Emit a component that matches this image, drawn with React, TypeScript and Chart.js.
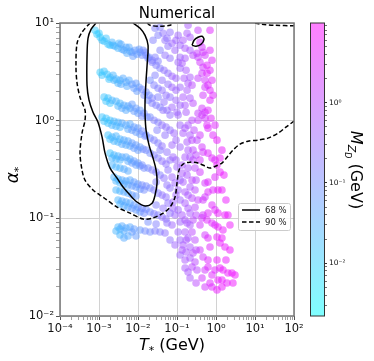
import React, { useEffect, useRef } from 'react';
import { Chart, registerables } from 'chart.js';

Chart.register(...registerables);

const FONT = "'DejaVu Sans', sans-serif";

const titleText = 'Numerical';
const legendLabels = ['68 %', '90 %'];

const xMajorTicks = [1e-4, 1e-3, 1e-2, 1e-1, 1, 10, 100];
const xTickLabels = ['10⁻⁴', '10⁻³', '10⁻²', '10⁻¹', '10⁰', '10¹', '10²'];
const yMajorTicks = [1e-2, 1e-1, 1, 10];
const yTickLabels = ['10⁻²', '10⁻¹', '10⁰', '10¹'];
const cbMajorTicks = [1e-3, 1e-2, 1e-1, 1];
const cbTickLabels = ['10⁻³', '10⁻²', '10⁻¹', '10⁰'];
const cbRange = [2.2e-3, 9.8];

// ---- scatter points: T_*, alpha_*, M_ZD ----
const cyanT = [
  7.9e-4, 8.89e-4, 1.07e-3, 1.2e-3, 1.35e-3, 1.71e-3, 1.92e-3, 2.16e-3, 2.58e-3, 3.08e-3, 3.67e-3, 4.38e-3, 4.93e-3, 5.23e-3, 6.24e-3, 7.45e-3, 8.38e-3, 9.43e-3, 0.0113, 0.0135, 0.0161, 0.0192, 0.023,
  1.07e-3, 1.35e-3, 1.61e-3, 1.92e-3, 2.29e-3, 2.74e-3, 3.46e-3, 4.13e-3, 4.93e-3, 5.88e-3, 7.02e-3, 8.89e-3, 0.0107, 0.0127, 0.0161, 0.0192,
  1.35e-3, 1.71e-3, 2.16e-3, 2.74e-3, 3.46e-3, 4.38e-3, 5.55e-3, 7.02e-3, 8.89e-3, 0.0113, 0.0143,
  1.2e-3, 1.52e-3, 1.92e-3, 2.43e-3, 3.08e-3, 3.89e-3, 4.93e-3, 6.24e-3, 7.9e-3, 0.01, 0.0127,
  1.71e-3, 2.16e-3, 2.74e-3, 3.46e-3, 4.38e-3, 5.55e-3, 7.02e-3, 8.89e-3, 0.0113,
  1.92e-3, 2.43e-3, 3.08e-3, 3.89e-3, 4.93e-3, 6.24e-3, 7.9e-3, 0.01, 0.0127,
  2.16e-3, 2.74e-3, 3.46e-3, 4.38e-3, 5.55e-3,
  2.43e-3, 3.08e-3, 3.89e-3, 4.93e-3, 6.24e-3, 7.9e-3, 0.01, 0.0127, 0.0161,
  2.74e-3, 3.46e-3, 4.38e-3, 5.55e-3, 7.02e-3, 8.89e-3,
  3.08e-3, 3.89e-3, 4.93e-3, 6.24e-3, 7.9e-3, 0.01, 0.0127, 0.0161,
  3.08e-3, 3.89e-3, 4.93e-3, 6.24e-3, 7.9e-3,
  3.46e-3, 4.38e-3, 5.55e-3,
];
const cyanAlpha = [
  8.42, 7.66, 7.14, 6.65, 6.5, 6.06, 5.92, 6.35, 5.78, 5.51, 6.06, 5.26, 5.64, 4.9, 5.14, 4.56, 5.26, 4.79, 5.02, 5.26, 4.67, 4.46, 4.16,
  3.13, 3.21, 2.99, 2.78, 2.92, 2.66, 2.59, 2.72, 2.48, 2.59, 2.36, 2.42, 2.2, 2.1, 1.96, 1.82,
  1.74, 1.7, 1.62, 1.58, 1.51, 1.44, 1.41, 1.47, 1.34, 1.28, 1.19,
  1.09, 1.06, 1.01, 0.988, 0.965, 0.943, 0.9, 0.921, 0.858, 0.838, 0.781,
  0.711, 0.678, 0.694, 0.647, 0.632, 0.617, 0.589, 0.562, 0.536,
  0.465, 0.444, 0.434, 0.423, 0.423, 0.404, 0.385, 0.368, 0.351,
  0.351, 0.335, 0.327, 0.319, 0.305,
  0.264, 0.252, 0.246, 0.241, 0.246, 0.235, 0.224, 0.219, 0.214,
  0.195, 0.19, 0.186, 0.181, 0.173, 0.169,
  0.154, 0.15, 0.147, 0.143, 0.137, 0.13, 0.127, 0.124,
  0.0815, 0.0834, 0.0796, 0.0815, 0.0777,
  0.0675, 0.0629, 0.0659,
];
const cyanM = [
  0.012, 0.012, 0.012, 0.016, 0.016, 0.016, 0.016, 0.024, 0.024, 0.024, 0.038, 0.038, 0.038, 0.038, 0.038, 0.06, 0.06, 0.06, 0.06, 0.1, 0.1, 0.1, 0.16,
  0.012, 0.016, 0.016, 0.016, 0.024, 0.024, 0.024, 0.038, 0.038, 0.038, 0.06, 0.06, 0.06, 0.1, 0.1, 0.1,
  0.016, 0.016, 0.024, 0.024, 0.024, 0.038, 0.038, 0.06, 0.06, 0.06, 0.1,
  0.016, 0.016, 0.016, 0.024, 0.024, 0.038, 0.038, 0.038, 0.06, 0.06, 0.1,
  0.016, 0.024, 0.024, 0.024, 0.038, 0.038, 0.06, 0.06, 0.06,
  0.016, 0.024, 0.024, 0.038, 0.038, 0.038, 0.06, 0.06, 0.1,
  0.024, 0.024, 0.024, 0.038, 0.038,
  0.024, 0.024, 0.038, 0.038, 0.038, 0.06, 0.06, 0.1, 0.1,
  0.024, 0.024, 0.038, 0.038, 0.06, 0.06,
  0.024, 0.038, 0.038, 0.038, 0.06, 0.06, 0.1, 0.1,
  0.024, 0.038, 0.038, 0.038, 0.06,
  0.024, 0.038, 0.038,
];

const cyanRow2T = [
  1e-3, 1.52e-3, 2.29e-3, 3.26e-3, 3.89e-3, 5.88e-3, 7.02e-3, 0.0107, 0.0127, 0.0152, 0.0181, 0.0274, 0.0327,
  1.2e-3, 1.81e-3, 2.43e-3, 3.08e-3, 3.67e-3, 5.23e-3, 7.9e-3, 9.43e-3, 0.0143, 0.023,
  1.52e-3, 1.92e-3, 3.08e-3, 3.89e-3, 4.93e-3, 6.24e-3, 7.9e-3, 0.01, 0.0127, 0.0171,
  1.35e-3, 1.71e-3, 2.16e-3, 2.74e-3, 3.46e-3, 5.55e-3, 7.02e-3, 8.89e-3, 0.0113, 0.0152,
  1.92e-3, 2.43e-3, 3.08e-3, 3.89e-3, 4.93e-3, 6.24e-3, 7.9e-3, 0.01, 0.0135,
  2.16e-3, 2.74e-3, 3.46e-3, 5.55e-3, 7.02e-3, 8.89e-3, 0.0113, 0.0143,
  2.74e-3, 3.46e-3, 4.38e-3, 5.55e-3, 7.02e-3, 8.89e-3, 0.0113, 0.0143,
  3.46e-3, 4.38e-3, 5.55e-3, 7.02e-3, 8.89e-3, 0.0113, 0.0143,
  2.74e-3, 3.46e-3, 7.02e-3, 4.38e-3, 8.89e-3,
];
const cyanRow2Alpha = [
  7.85, 6.98, 5.92, 6.2, 5.38, 5.64, 5.02, 5.38, 4.67, 5.02, 4.36, 4.46, 4.06,
  2.92, 2.66, 2.59, 2.42, 2.36, 2.25, 2.15, 2.0, 1.82, 1.7,
  1.58, 1.51, 1.41, 1.34, 1.28, 1.34, 1.25, 1.19, 1.11, 1.09,
  0.988, 0.943, 0.9, 0.879, 0.858, 0.819, 0.8, 0.763, 0.728, 0.694,
  0.647, 0.617, 0.603, 0.575, 0.562, 0.549, 0.523, 0.499, 0.511,
  0.414, 0.404, 0.395, 0.385, 0.368, 0.351, 0.343, 0.327,
  0.241, 0.23, 0.224, 0.219, 0.214, 0.209, 0.199, 0.195,
  0.14, 0.134, 0.13, 0.127, 0.122, 0.116, 0.113,
  0.0742, 0.0777, 0.0724, 0.0742, 0.0659,
];
const cyanRow2M = [
  0.012, 0.016, 0.024, 0.024, 0.038, 0.038, 0.06, 0.06, 0.1, 0.1, 0.1, 0.16, 0.16,
  0.016, 0.016, 0.024, 0.024, 0.038, 0.038, 0.06, 0.06, 0.1, 0.16,
  0.016, 0.016, 0.024, 0.038, 0.038, 0.038, 0.06, 0.06, 0.1, 0.1,
  0.016, 0.016, 0.024, 0.024, 0.024, 0.038, 0.06, 0.06, 0.06, 0.1,
  0.016, 0.024, 0.024, 0.038, 0.038, 0.038, 0.06, 0.06, 0.1,
  0.024, 0.024, 0.024, 0.038, 0.06, 0.06, 0.06, 0.1,
  0.024, 0.024, 0.038, 0.038, 0.06, 0.06, 0.06, 0.1,
  0.024, 0.038, 0.038, 0.06, 0.06, 0.06, 0.1,
  0.024, 0.024, 0.06, 0.038, 0.06,
];

const blueT = [
  0.0274, 0.0368, 0.0439, 0.0327, 0.0494, 0.0663, 0.0555, 0.0746, 0.0589, 0.107, 0.12, 0.089,
  0.023, 0.0291, 0.0368, 0.0465, 0.0589, 0.0746, 0.0944, 0.12, 0.107, 0.135, 0.12,
  0.0204, 0.0258, 0.0327, 0.0414, 0.0524, 0.0663, 0.0746, 0.0944, 0.12, 0.143,
  0.0181, 0.023, 0.0291, 0.0368, 0.0465, 0.0555, 0.0746, 0.1,
  0.0204, 0.0258, 0.0327, 0.0414, 0.0524, 0.0663, 0.0839, 0.107, 0.12, 0.143,
  0.0161, 0.0204, 0.0258, 0.0327, 0.0414, 0.0555, 0.0746, 0.0791, 0.1,
  0.0161, 0.0204, 0.0258, 0.0327, 0.0414, 0.0524, 0.0589, 0.0746,
  0.0181, 0.023, 0.0291, 0.0368, 0.0465, 0.089, 0.107, 0.0663,
  0.0204, 0.0258, 0.0327, 0.0414, 0.0524, 0.12, 0.0791,
  0.0204, 0.0258, 0.0327, 0.0414, 0.0524, 0.0589, 0.0791, 0.089, 0.0663,
  0.0113, 0.0152, 0.0204, 0.0274, 0.0368, 0.0494, 0.0555, 0.0663, 0.089, 0.12, 0.135, 0.161, 0.0181, 0.0291,
];
const blueAlpha = [
  8.83, 9.04, 7.85, 7.48, 6.65, 8.04, 6.98, 6.2, 5.78, 7.48, 5.92, 5.26,
  3.96, 3.69, 3.44, 3.28, 3.06, 2.85, 2.72, 4.46, 3.96, 3.87, 3.44,
  2.59, 2.31, 2.15, 2.05, 1.82, 1.74, 2.2, 2.05, 2.2, 1.74,
  1.62, 1.51, 1.44, 1.37, 1.55, 1.28, 1.37, 1.22,
  1.09, 1.01, 0.965, 0.9, 0.858, 0.8, 0.745, 1.14, 0.9, 0.745,
  0.711, 0.662, 0.632, 0.589, 0.549, 0.476, 0.562, 0.423, 0.335,
  0.499, 0.465, 0.444, 0.414, 0.385, 0.359, 0.312, 0.264,
  0.327, 0.312, 0.297, 0.277, 0.258, 0.23, 0.195, 0.204,
  0.204, 0.195, 0.181, 0.173, 0.165, 0.154, 0.147,
  0.116, 0.111, 0.108, 0.103, 0.0984, 0.143, 0.127, 0.108, 0.113,
  0.0759, 0.0742, 0.0724, 0.0742, 0.0724, 0.0707, 0.0895, 0.06, 0.0533, 0.06, 0.0474, 0.0375, 0.0917, 0.0874,
];
const blueM = [
  0.16, 0.16, 0.25, 0.16, 0.25, 0.25, 0.25, 0.4, 0.25, 0.4, 0.4, 0.4,
  0.16, 0.16, 0.16, 0.25, 0.25, 0.4, 0.4, 0.4, 0.4, 0.6, 0.4,
  0.1, 0.16, 0.16, 0.25, 0.25, 0.25, 0.4, 0.4, 0.4, 0.6,
  0.1, 0.16, 0.16, 0.16, 0.25, 0.25, 0.4, 0.4,
  0.1, 0.16, 0.16, 0.25, 0.25, 0.25, 0.4, 0.4, 0.4, 0.6,
  0.1, 0.1, 0.16, 0.16, 0.25, 0.25, 0.4, 0.4, 0.4,
  0.1, 0.1, 0.16, 0.16, 0.25, 0.25, 0.25, 0.4,
  0.1, 0.16, 0.16, 0.16, 0.25, 0.4, 0.4, 0.25,
  0.1, 0.16, 0.16, 0.25, 0.25, 0.4, 0.4,
  0.1, 0.16, 0.16, 0.25, 0.25, 0.25, 0.4, 0.4, 0.25,
  0.06, 0.1, 0.1, 0.16, 0.16, 0.25, 0.25, 0.25, 0.4, 0.4, 0.6, 0.6, 0.1, 0.16,
];

const midT = [
  0.0243, 0.0944, 0.143,
  0.0368, 0.0494, 0.0663, 0.161,
  0.0274, 0.0414, 0.0589, 0.152, 0.181,
  0.0327, 0.0439, 0.0944, 0.12, 0.171, 0.0663,
  0.0308, 0.0494, 0.0944, 0.12, 0.161, 0.243, 0.274,
  0.0368, 0.0663, 0.0944, 0.135, 0.192, 0.258, 0.308,
  0.0291, 0.0555, 0.12, 0.161, 0.192, 0.0944, 0.308,
  0.0291, 0.0439, 0.107, 0.135, 0.12, 0.0746, 0.161, 0.216, 0.308,
  0.107, 0.171, 0.216, 0.308, 0.161, 0.216, 0.308, 0.12, 0.326,
];
const midAlpha = [
  6.65, 6.65, 6.65,
  5.26, 4.67, 4.36, 4.36,
  2.92, 2.59, 2.36, 2.72, 2.05,
  1.74, 1.28, 1.62, 1.44, 1.22, 1.14,
  0.8, 0.711, 0.632, 0.536, 0.838, 0.632, 0.8,
  0.499, 0.395, 0.395, 0.351, 0.327, 0.499, 0.444,
  0.235, 0.219, 0.246, 0.186, 0.173, 0.173, 0.246,
  0.137, 0.127, 0.122, 0.108, 0.0917, 0.0854, 0.0961, 0.0854, 0.108,
  0.0724, 0.06, 0.0509, 0.0474, 0.031, 0.0245, 0.0218, 0.0421, 0.0296,
];
const midM = [
  0.16, 0.4, 0.6,
  0.16, 0.25, 0.25, 0.6,
  0.16, 0.25, 0.25, 0.6, 0.6,
  0.16, 0.25, 0.4, 0.4, 0.6, 0.25,
  0.16, 0.25, 0.4, 0.4, 0.6, 1.0, 1.0,
  0.16, 0.25, 0.4, 0.6, 0.6, 1.0, 1.0,
  0.16, 0.25, 0.4, 0.6, 0.6, 0.4, 1.0,
  0.16, 0.25, 0.4, 0.6, 0.4, 0.4, 0.6, 0.6, 1.0,
  0.4, 0.6, 0.6, 1.0, 0.6, 0.6, 1.0, 0.4, 1.0,
];

const purpleT = [
  0.192, 0.181, 0.216, 0.258, 0.161, 0.216, 0.216, 0.192, 0.243, 0.171, 0.216, 0.258, 0.161,
  0.192, 0.243, 0.216, 0.181, 0.192, 0.161, 0.216, 0.258, 0.326,
  0.135, 0.181, 0.243, 0.143, 0.216, 0.29, 0.29, 0.243, 0.161, 0.192, 0.216, 0.29,
  0.258, 0.181, 0.161, 0.243, 0.192, 0.29, 0.258, 0.216, 0.243, 0.192, 0.29, 0.143, 0.171,
];
const purpleAlpha = [
  9.47, 7.85, 7.14, 4.67, 5.51, 5.26, 2.78, 2.42, 2.31, 3.28, 1.7, 1.51, 1.44,
  0.9, 1.01, 0.711, 0.603, 0.499, 0.423, 0.423, 0.395, 0.632,
  0.29, 0.277, 0.246, 0.235, 0.209, 0.195, 0.327, 0.161, 0.143, 0.127, 0.113, 0.13,
  0.0961, 0.0895, 0.0724, 0.0724, 0.0629, 0.06, 0.0442, 0.0393, 0.0318, 0.0282, 0.0357, 0.0533, 0.0452,
];
const purpleM = [
  0.6, 0.6, 0.6, 1.0, 0.6, 0.6, 0.6, 0.6, 1.0, 0.6, 0.6, 1.0, 0.6,
  0.6, 1.0, 0.6, 0.6, 0.6, 0.6, 0.6, 1.0, 1.0,
  0.6, 0.6, 1.0, 0.6, 0.6, 1.0, 1.0, 1.0, 0.6, 0.6, 0.6, 1.0,
  1.0, 0.6, 0.6, 1.0, 0.6, 1.0, 1.0, 0.6, 1.0, 0.6, 1.0, 0.6, 0.6,
];

const magentaT = [
  0.346, 0.326, 0.389, 0.438, 0.465, 0.523, 0.346, 0.389, 0.465, 0.588, 0.438, 0.588, 0.523, 0.624, 0.702, 0.523,
  0.438, 0.523, 0.624, 0.346, 0.438, 0.523, 0.346, 0.588, 0.624, 0.838,
  0.438, 0.465, 0.624, 0.79, 0.943, 1.06, 1.27, 0.943, 0.389,
  0.523, 0.624, 0.838, 1.125, 0.624, 0.523,
  0.79, 0.943, 1.125, 1.7, 0.465, 0.624, 0.438, 0.588, 0.79, 0.943, 1.125, 1.51,
  0.523, 0.624, 1.06, 1.27, 1.7, 0.702,
  0.465, 0.624, 1.06, 1.27, 1.51, 2.03, 2.57, 0.943, 0.79, 0.523,
  0.438, 1.125, 1.42, 1.91, 2.72, 0.523, 0.79, 1.06, 0.624, 0.389, 0.346, 0.389,
  0.702, 0.702, 0.79, 0.702, 0.79, 0.838, 0.702, 0.745, 0.943, 1.06, 1.42, 1.27, 1.6, 1.42,
  1.8, 2.03, 2.28, 1.42, 2.28, 1.8, 3.07, 0.702, 1.42, 0.465, 0.389, 0.389, 0.465, 0.346,
];
const magentaAlpha = [
  8.42, 4.9, 6.35, 5.64, 5.02, 4.67, 4.46, 3.96, 3.52, 3.69, 3.06, 3.06, 2.59, 2.31, 2.05, 2.2,
  1.34, 1.22, 1.28, 1.19, 1.14, 1.06, 1.01, 0.9, 0.838, 0.711,
  0.536, 0.476, 0.465, 0.414, 0.395, 0.351, 0.297, 0.264, 0.297,
  0.23, 0.235, 0.195, 0.195, 0.186, 0.165,
  0.137, 0.122, 0.113, 0.108, 0.108, 0.113, 0.101, 0.0961, 0.0895, 0.0854, 0.0815, 0.0759,
  0.0675, 0.0629, 0.0644, 0.0559, 0.0509, 0.0509,
  0.0402, 0.0375, 0.0375, 0.031, 0.0296, 0.0276, 0.0276, 0.0296, 0.0263, 0.0296,
  0.0245, 0.0234, 0.0234, 0.0218, 0.0218, 0.0198, 0.0198, 0.0185, 0.0318, 0.0474, 0.154, 0.0854,
  8.42, 5.26, 4.16, 3.28, 2.59, 1.82, 1.62, 1.06, 0.9, 0.632, 0.499, 0.414, 0.277, 0.195,
  0.154, 0.108, 0.0854, 0.0629, 0.0474, 0.0375, 0.0263, 0.0218, 0.0198, 0.154, 0.395, 0.711, 1.82, 2.72,
];
const magentaM = [
  1.5, 1.5, 2, 2, 2, 2, 1.5, 2, 2, 3.5, 2, 3.5, 2, 3.5, 3.5, 2,
  2, 2, 3.5, 1.5, 2, 2, 1.5, 3.5, 3.5, 3.5,
  2, 2, 3.5, 3.5, 3.5, 5, 5, 3.5, 2,
  2, 3.5, 3.5, 5, 3.5, 2,
  3.5, 3.5, 5, 5, 2, 3.5, 2, 3.5, 3.5, 3.5, 5, 5,
  2, 3.5, 5, 5, 5, 3.5,
  2, 3.5, 5, 5, 5, 5, 6, 3.5, 3.5, 2,
  2, 5, 5, 5, 6, 2, 3.5, 5, 3.5, 2, 1.5, 2,
  3.5, 3.5, 3.5, 3.5, 3.5, 3.5, 3.5, 3.5, 3.5, 5, 5, 5, 5, 5,
  5, 5, 6, 5, 6, 5, 6, 3.5, 5, 2, 2, 2, 2, 1.5,
];

// ---- credible-region contours ----
const c68T = [8.38e-4, 6.24e-4, 5.23e-4, 4.93e-4, 4.93e-4, 5.55e-4, 7.02e-4, 9.43e-4, 1.2e-3, 1.43e-3, 1.92e-3, 2.9e-3, 4.13e-3, 6.24e-3, 9.43e-3, 0.0152, 0.023, 0.0274, 0.0308, 0.0291, 0.0243, 0.0192, 0.0161, 0.0152, 0.0152, 0.0161, 0.0171, 0.0181, 0.0152, 0.0113, 7.45e-3];
const c68Alpha = [10, 8.62, 6.98, 4.67, 2.31, 1.62, 1.22, 0.965, 0.678, 0.465, 0.327, 0.258, 0.209, 0.173, 0.147, 0.134, 0.143, 0.173, 0.23, 0.312, 0.414, 0.562, 0.8, 1.14, 1.62, 2.59, 3.69, 5.92, 7.48, 8.83, 10];
const c68IslandT = [0.243, 0.274, 0.346, 0.438, 0.493, 0.413, 0.308, 0.243];
const c68IslandAlpha = [5.92, 6.65, 7.14, 7.31, 6.81, 6.06, 5.78, 5.92];
const c90T = [5.88e-4, 3.67e-4, 2.74e-4, 2.57e-4, 2.74e-4, 3.26e-4, 4.38e-4, 4.38e-4, 3.67e-4, 3.26e-4, 3.67e-4, 4.38e-4, 7.02e-4, 1.27e-3, 2.9e-3, 6.24e-3, 0.0135, 0.0243, 0.0439, 0.0663, 0.089, 0.1, 0.113, 0.143, 0.216, 0.346, 0.523, 0.702, 1.0, 1.42, 2.03, 2.89, 4.12, 6.6, 11.9, 21.5, 38.9, 62.2, 100];
const c90Alpha = [10, 8.04, 6.2, 3.52, 2.42, 1.74, 1.28, 1.01, 0.745, 0.465, 0.312, 0.246, 0.195, 0.165, 0.13, 0.113, 0.0984, 0.101, 0.113, 0.13, 0.165, 0.23, 0.312, 0.359, 0.376, 0.368, 0.343, 0.327, 0.343, 0.368, 0.434, 0.511, 0.575, 0.617, 0.632, 0.662, 0.745, 0.858, 0.988];
const c90TopT = [0.0171, 0.0204, 0.0368, 0.0663, 0.0791];
const c90TopAlpha = [10, 9.47, 9.25, 9.47, 10];
const c90CornerT = [10, 15.1, 32.6, 100];
const c90CornerAlpha = [10, 9.7, 9.47, 9.36];

const lmin = Math.log10(cbRange[0]);
const lmax = Math.log10(cbRange[1]);
function cool(m: number, a: number) {
  const t = Math.min(1, Math.max(0, (Math.log10(m) - lmin) / (lmax - lmin)));
  return `rgba(${Math.round(255 * t)},${Math.round(255 * (1 - t))},255,${a})`;
}
const toPts = (T: number[], A: number[]) => T.map((t, i) => ({ x: t, y: A[i] }));

function buildLogTicks(decades: number[], lo: number, hi: number) {
  const out: { value: number; major: boolean }[] = [];
  for (const d of decades) {
    for (let k = 1; k <= 9; k++) {
      const v = d * k;
      if (v >= lo * 0.9999 && v <= hi * 1.0001) out.push({ value: v, major: k === 1 });
    }
  }
  return out;
}
function labelFor(value: number, majors: number[], labels: string[]) {
  const i = majors.findIndex((m) => Math.abs(m - value) / m < 1e-6);
  return i >= 0 ? labels[i] : '';
}

type Part = { t: string; font: string; dy: number };
function drawParts(ctx: CanvasRenderingContext2D, parts: Part[], cx: number, cy: number, angle: number) {
  ctx.save();
  ctx.translate(cx, cy);
  ctx.rotate(angle);
  let w = 0;
  const ws = parts.map((p) => {
    ctx.font = p.font;
    const m = ctx.measureText(p.t).width;
    w += m;
    return m;
  });
  let x = -w / 2;
  ctx.textAlign = 'left';
  ctx.textBaseline = 'alphabetic';
  ctx.fillStyle = '#000';
  parts.forEach((p, i) => {
    ctx.font = p.font;
    ctx.fillText(p.t, x, p.dy);
    x += ws[i];
  });
  ctx.restore();
}

function logAxis(majors: number[], labels: string[], lo: number, hi: number, fit: (s: any) => void) {
  return {
    type: 'logarithmic',
    min: lo,
    max: hi,
    afterBuildTicks: (s: any) => {
      s.ticks = buildLogTicks(majors, lo, hi);
    },
    afterFit: fit,
    border: { display: false },
    grid: {
      color: (c: any) => (c.tick && c.tick.major ? '#d2d2d2' : 'rgba(0,0,0,0)'),
      lineWidth: 1,
      drawTicks: true,
      tickLength: 4,
      tickColor: (c: any) => (c.tick && c.tick.major ? '#555' : '#777'),
      tickWidth: (c: any) => (c.tick && c.tick.major ? 1 : 0.7),
    },
    ticks: {
      autoSkip: false,
      maxRotation: 0,
      minRotation: 0,
      padding: 2,
      color: '#111',
      font: { family: FONT, size: 11.5 },
      callback: (v: any) => labelFor(Number(v), majors, labels),
    },
  };
}

export default function App() {
  const mainRef = useRef<HTMLCanvasElement>(null);
  const cbRef = useRef<HTMLCanvasElement>(null);

  useEffect(() => {
    document.body.style.margin = '0';
    if (!mainRef.current || !cbRef.current) return;

    const groups = [
      [cyanT, cyanAlpha, cyanM],
      [cyanRow2T, cyanRow2Alpha, cyanRow2M],
      [blueT, blueAlpha, blueM],
      [midT, midAlpha, midM],
      [purpleT, purpleAlpha, purpleM],
      [magentaT, magentaAlpha, magentaM],
    ];
    const scatterSets = groups.map(([T, A, M]) => ({
      data: toPts(T, A),
      backgroundColor: M.map((m) => cool(m, 0.5)),
      borderWidth: 0,
      pointRadius: 3.8,
      pointHoverRadius: 3.8,
      order: 2,
    }));
    const line = (T: number[], A: number[], dashed: boolean) => ({
      data: toPts(T, A),
      showLine: true,
      borderColor: '#000',
      borderWidth: 1.5,
      borderDash: dashed ? [4.5, 2.5] : [],
      pointRadius: 0,
      tension: 0.3,
      fill: false,
      order: 0,
    });

    const decor = {
      id: 'decor',
      afterDraw(chart: any) {
        const ctx = chart.ctx as CanvasRenderingContext2D;
        const { left, right, top, bottom } = chart.chartArea;
        ctx.save();
        ctx.strokeStyle = '#777';
        ctx.lineWidth = 1.5;
        ctx.strokeRect(left, top, right - left, bottom - top);

        // legend
        const lx = 238, ly = 203, lw = 52, lh = 27;
        ctx.beginPath();
        (ctx as any).roundRect(lx + 0.5, ly + 0.5, lw, lh, 2);
        ctx.fillStyle = 'rgba(255,255,255,0.85)';
        ctx.fill();
        ctx.strokeStyle = '#cccccc';
        ctx.lineWidth = 1;
        ctx.stroke();
        ctx.strokeStyle = '#000';
        ctx.lineWidth = 1.5;
        ctx.setLineDash([]);
        ctx.beginPath();
        ctx.moveTo(242, 210);
        ctx.lineTo(260, 210);
        ctx.stroke();
        ctx.setLineDash([4.5, 2.5]);
        ctx.beginPath();
        ctx.moveTo(242, 222);
        ctx.lineTo(260, 222);
        ctx.stroke();
        ctx.setLineDash([]);
        ctx.fillStyle = '#222';
        ctx.font = `8.5px ${FONT}`;
        ctx.textAlign = 'left';
        ctx.textBaseline = 'alphabetic';
        ctx.fillText(legendLabels[0], 265, 213);
        ctx.fillText(legendLabels[1], 265, 225);

        // title
        ctx.fillStyle = '#000';
        ctx.font = `15px ${FONT}`;
        ctx.textAlign = 'center';
        ctx.fillText(titleText, (left + right) / 2, 18);
        ctx.restore();

        drawParts(ctx, [
          { t: 'T', font: `italic 16px ${FONT}`, dy: 0 },
          { t: '*', font: `11px ${FONT}`, dy: 4 },
          { t: ' (GeV)', font: `16px ${FONT}`, dy: 0 },
        ], 172, 350, 0);
        drawParts(ctx, [
          { t: 'α', font: `italic 17px ${FONT}`, dy: 0 },
          { t: '*', font: `11px ${FONT}`, dy: 4 },
        ], 18, 175, -Math.PI / 2);
        drawParts(ctx, [
          { t: 'M', font: `italic 16px ${FONT}`, dy: 0 },
          { t: 'Z', font: `italic 11px ${FONT}`, dy: 3 },
          { t: 'D', font: `italic 8px ${FONT}`, dy: 6 },
          { t: ' (GeV)', font: `16px ${FONT}`, dy: 0 },
        ], 351, 170, Math.PI / 2);
      },
    };

    const main = new Chart(mainRef.current, {
      type: 'scatter',
      data: {
        datasets: [
          ...scatterSets,
          line(c68T, c68Alpha, false),
          line(c68IslandT, c68IslandAlpha, false),
          line(c90T, c90Alpha, true),
          line(c90TopT, c90TopAlpha, true),
          line(c90CornerT, c90CornerAlpha, true),
        ] as any,
      },
      options: {
        animation: false,
        responsive: false,
        devicePixelRatio: 1,
        events: [],
        layout: { padding: { left: 0, right: 80, top: 23, bottom: 0 } },
        plugins: { legend: { display: false }, tooltip: { enabled: false }, title: { display: false } },
        scales: {
          x: logAxis(xMajorTicks, xTickLabels, 1e-4, 1e2, (s: any) => { s.height = 45; }) as any,
          y: logAxis(yMajorTicks, yTickLabels, 1e-2, 1e1, (s: any) => { s.width = 60; }) as any,
        },
      },
      plugins: [decor],
    });

    const cbFrame = {
      id: 'cbFrame',
      afterDraw(chart: any) {
        const ctx = chart.ctx as CanvasRenderingContext2D;
        const { left, right, top, bottom } = chart.chartArea;
        ctx.save();
        ctx.strokeStyle = '#333';
        ctx.lineWidth = 1;
        ctx.strokeRect(left + 0.5, top, right - left, bottom - top);
        ctx.restore();
      },
    };

    const cb = new Chart(cbRef.current, {
      type: 'bar',
      data: {
        labels: [''],
        datasets: [
          {
            data: [cbRange] as any,
            backgroundColor: (c: any) => {
              const ch = c.chart;
              const a = ch.chartArea;
              if (!a) return 'rgba(128,128,255,0.5)';
              const g = ch.ctx.createLinearGradient(0, a.bottom, 0, a.top);
              g.addColorStop(0, 'rgba(0,255,255,0.5)');
              g.addColorStop(1, 'rgba(255,0,255,0.5)');
              return g;
            },
            borderWidth: 0,
            barPercentage: 1,
            categoryPercentage: 1,
          },
        ],
      },
      options: {
        animation: false,
        responsive: false,
        devicePixelRatio: 1,
        events: [],
        layout: { padding: { left: 310, right: 0, top: 23, bottom: 45 } },
        plugins: { legend: { display: false }, tooltip: { enabled: false } },
        scales: {
          x: { display: false },
          y: {
            type: 'logarithmic',
            position: 'right',
            min: cbRange[0],
            max: cbRange[1],
            afterBuildTicks: (s: any) => {
              s.ticks = buildLogTicks(cbMajorTicks, cbRange[0], cbRange[1]);
            },
            afterFit: (s: any) => { s.width = 50; },
            border: { display: false },
            grid: {
              drawOnChartArea: false,
              drawTicks: true,
              tickLength: 3,
              tickColor: '#333',
              tickWidth: (c: any) => (c.tick && c.tick.major ? 1 : 0.7),
            },
            ticks: {
              autoSkip: false,
              padding: 2,
              color: '#111',
              font: { family: FONT, size: 7.5 },
              callback: (v: any) => labelFor(Number(v), cbMajorTicks, cbTickLabels),
            },
          } as any,
        },
      },
      plugins: [cbFrame],
    });

    return () => {
      main.destroy();
      cb.destroy();
    };
  }, []);

  return (
    <div style={{ position: 'relative', width: 374, height: 361, background: '#fff' }}>
      <canvas ref={mainRef} width={374} height={361} style={{ position: 'absolute', left: 0, top: 0 }} />
      <canvas ref={cbRef} width={374} height={361} style={{ position: 'absolute', left: 0, top: 0 }} />
    </div>
  );
}
